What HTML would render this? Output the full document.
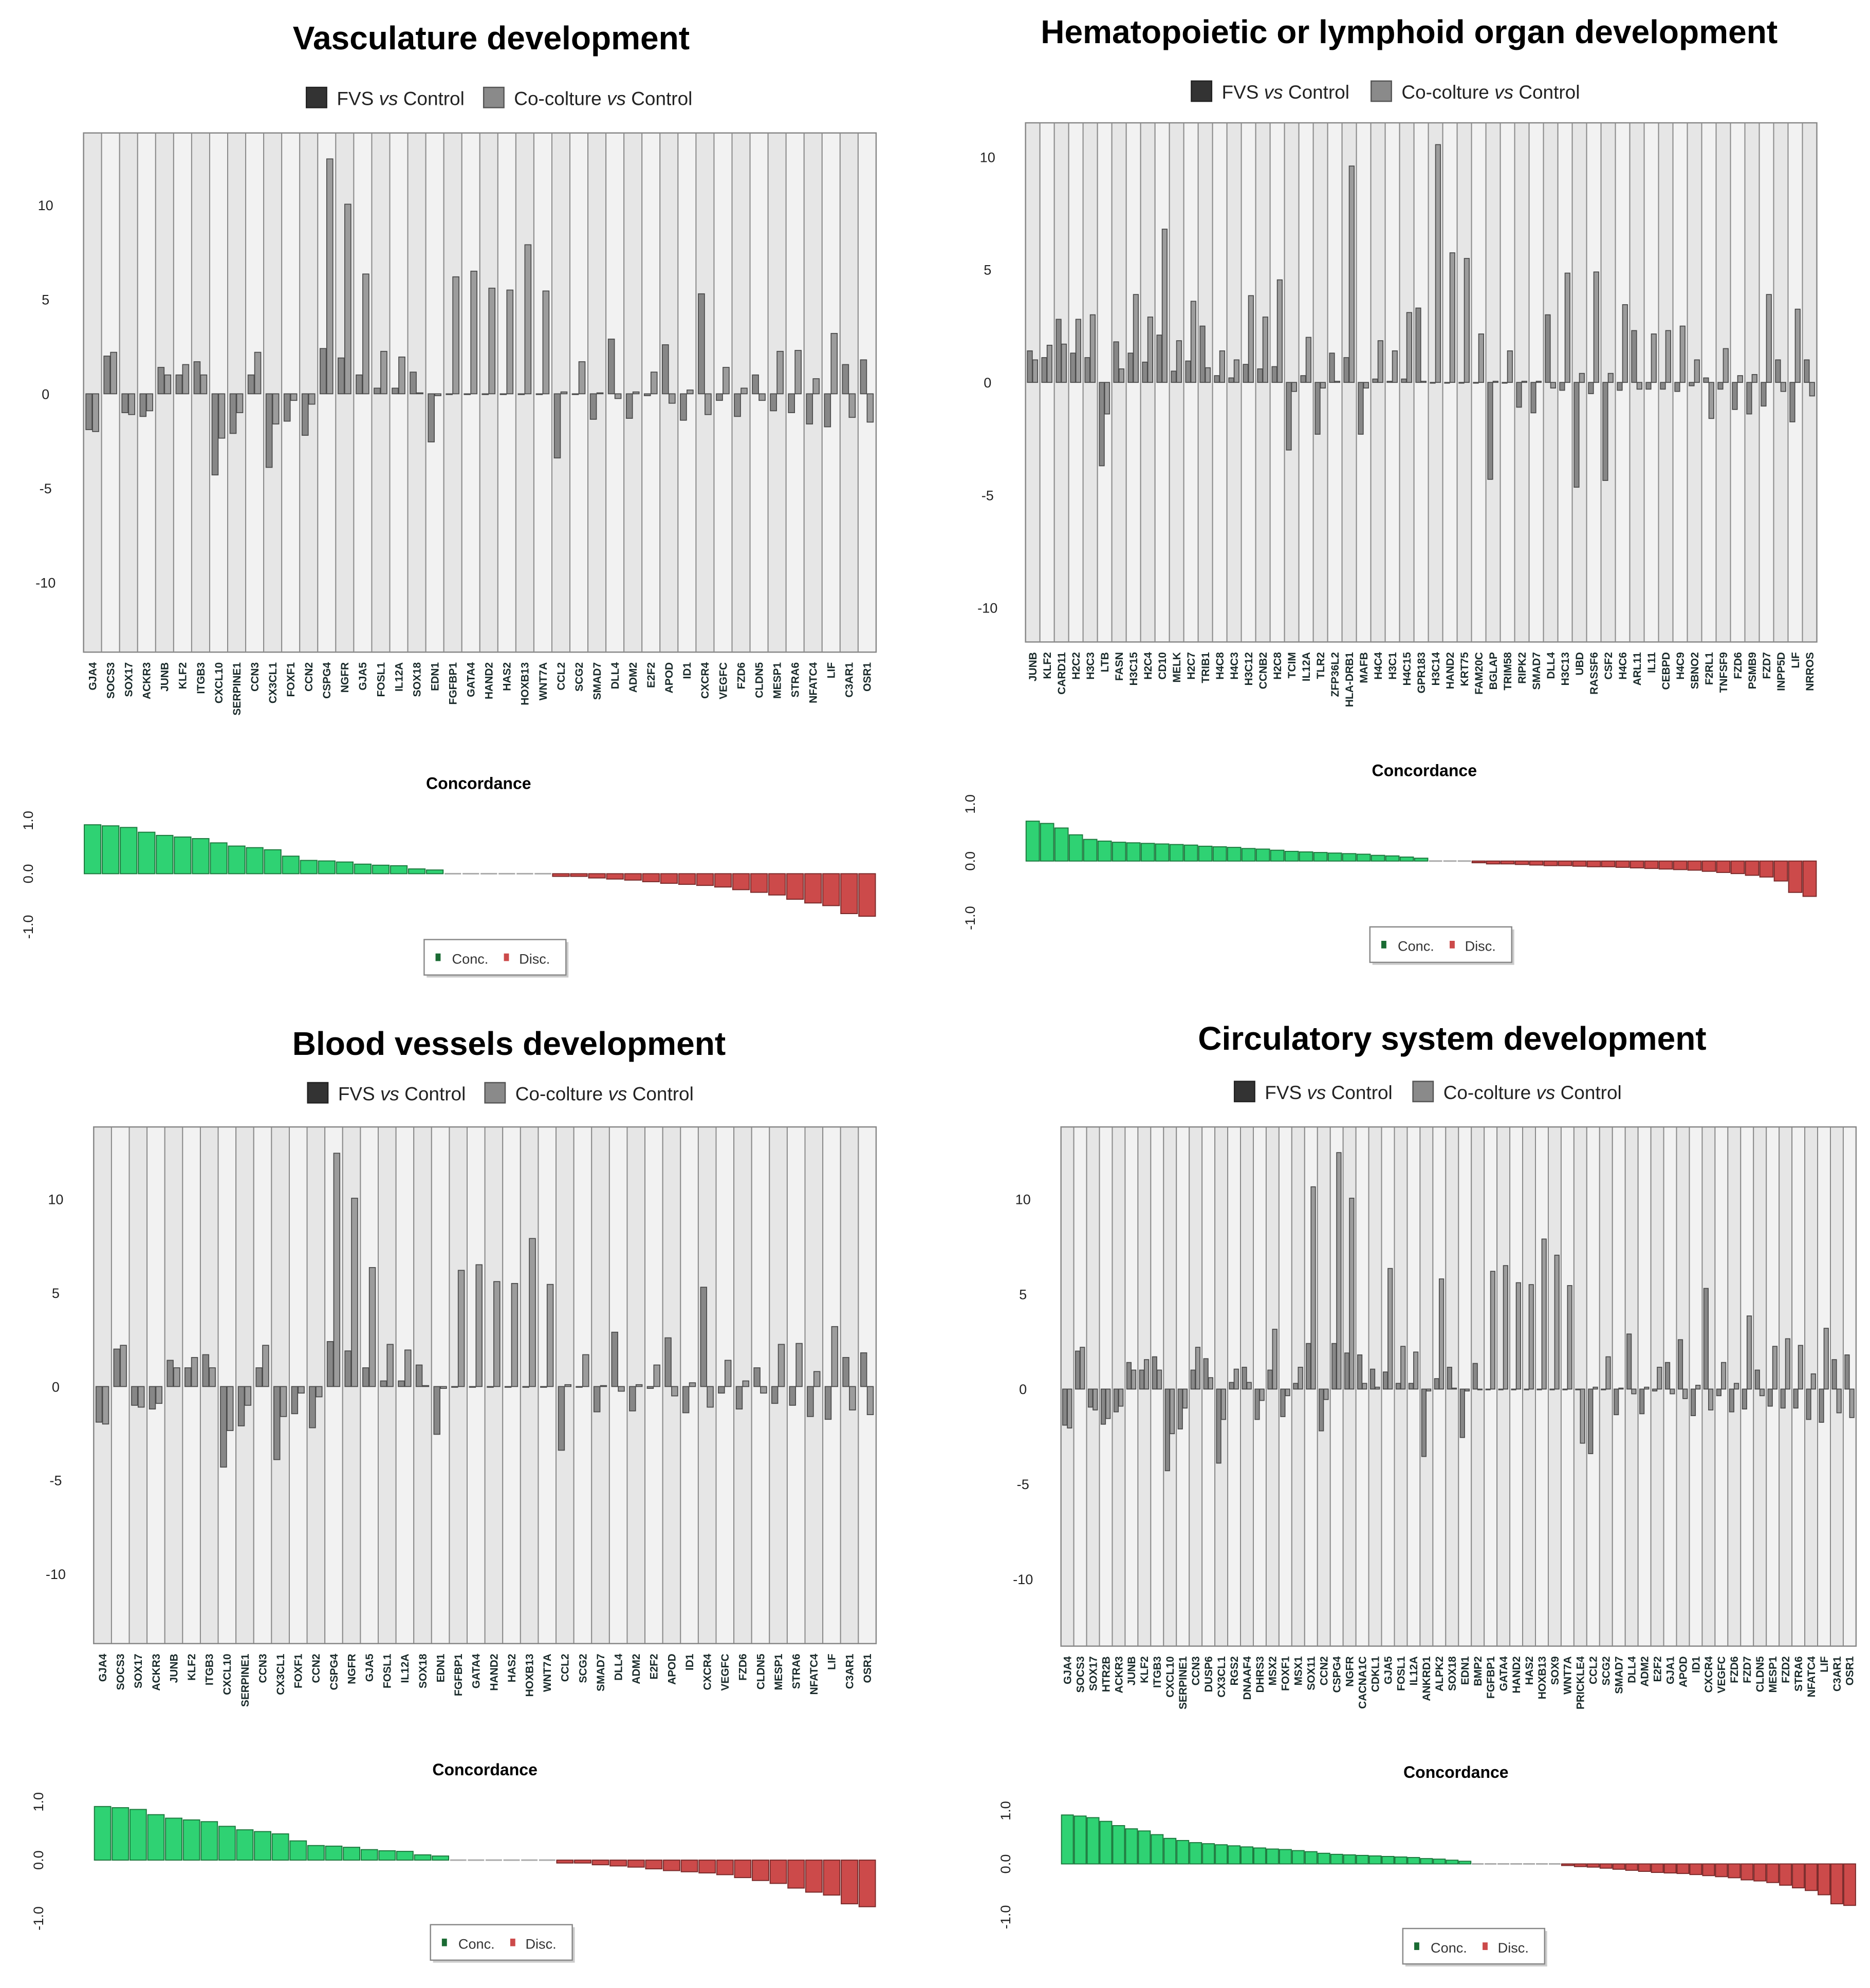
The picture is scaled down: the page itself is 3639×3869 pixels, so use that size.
<!DOCTYPE html>
<html>
<head>
<meta charset="utf-8">
<style>
html,body{margin:0;padding:0;background:#fff;}
svg{display:block;}
text{font-family:"Liberation Sans",Arial,sans-serif;}
</style>
</head>
<body>
<svg id="fig" xmlns="http://www.w3.org/2000/svg" width="3639" height="3869" viewBox="0 0 1477 1570" preserveAspectRatio="none">
<rect x="0" y="0" width="1477" height="1570" fill="#ffffff"/>
</svg>
<script>
// ---------- Data ----------
const vascGenes = ["GJA4","SOCS3","SOX17","ACKR3","JUNB","KLF2","ITGB3","CXCL10","SERPINE1","CCN3","CX3CL1","FOXF1","CCN2","CSPG4","NGFR","GJA5","FOSL1","IL12A","SOX18","EDN1","FGFBP1","GATA4","HAND2","HAS2","HOXB13","WNT7A","CCL2","SCG2","SMAD7","DLL4","ADM2","E2F2","APOD","ID1","CXCR4","VEGFC","FZD6","CLDN5","MESP1","STRA6","NFATC4","LIF","C3AR1","OSR1"];
const vascFvs = [-1.9,2.0,-1.0,-1.2,1.4,1.0,1.7,-4.3,-2.1,1.0,-3.9,-1.45,-2.2,2.4,1.9,1.0,0.3,0.3,1.15,-2.55,0,0,0,0,0,0,-3.4,0,-1.35,2.9,-1.3,-0.1,2.6,-1.4,5.3,-0.35,-1.2,1.0,-0.9,-1.0,-1.6,-1.75,1.55,1.8];
const vascCo = [-2.0,2.2,-1.1,-0.9,1.0,1.55,1.0,-2.35,-1.0,2.2,-1.6,-0.35,-0.55,12.45,10.05,6.35,2.25,1.95,0.05,-0.1,6.2,6.5,5.6,5.5,7.9,5.45,0.1,1.7,0.05,-0.25,0.1,1.15,-0.5,0.2,-1.1,1.4,0.3,-0.35,2.25,2.3,0.8,3.2,-1.25,-1.5];
const vascConc = [0.92,0.9,0.87,0.78,0.72,0.69,0.66,0.58,0.52,0.49,0.45,0.33,0.25,0.24,0.22,0.18,0.16,0.15,0.09,0.07,0,0,0,0,0,0,-0.05,-0.05,-0.08,-0.1,-0.12,-0.15,-0.18,-0.2,-0.22,-0.25,-0.3,-0.35,-0.4,-0.48,-0.55,-0.6,-0.75,-0.8];

const hemGenes = ["JUNB","KLF2","CARD11","H2C2","H3C3","LTB","FASN","H3C15","H2C4","CD10","MELK","H2C7","TRIB1","H4C8","H4C3","H3C12","CCNB2","H2C8","TCIM","IL12A","TLR2","ZFP36L2","HLA-DRB1","MAFB","H4C4","H3C1","H4C15","GPR183","H3C14","HAND2","KRT75","FAM20C","BGLAP","TRIM58","RIPK2","SMAD7","DLL4","H3C13","UBD","RASSF6","CSF2","H4C6","ARL11","IL11","CEBPD","H4C9","SBNO2","F2RL1","TNFSF9","FZD6","PSMB9","FZD7","INPP5D","LIF","NRROS"];
const hemFvs = [1.4,1.1,2.8,1.3,1.1,-3.7,1.8,1.3,0.9,2.1,0.5,0.95,2.5,0.3,0.2,0.8,0.6,0.7,-3.0,0.3,-2.3,1.3,1.1,-2.3,0.15,0.05,0.15,3.3,0,0,0,0,-4.3,0,-1.1,-1.35,3.0,-0.35,-4.65,-0.5,-4.35,-0.35,2.3,-0.3,-0.3,-0.4,-0.15,0.2,-0.3,-1.2,-1.4,-1.05,1.0,-1.75,1.0];
const hemCo = [1.0,1.65,1.7,2.8,3.0,-1.4,0.6,3.9,2.9,6.8,1.85,3.6,0.65,1.4,1.0,3.85,2.9,4.55,-0.4,2.0,-0.25,0.05,9.6,-0.25,1.85,1.4,3.1,0.05,10.55,5.75,5.5,2.15,0.05,1.4,0.05,0.05,-0.25,4.85,0.4,4.9,0.4,3.45,-0.3,2.15,2.3,2.5,1.0,-1.6,1.5,0.3,0.35,3.9,-0.4,3.25,-0.6];
const hemConc = [0.70,0.66,0.58,0.46,0.38,0.35,0.33,0.32,0.31,0.30,0.29,0.28,0.26,0.25,0.24,0.22,0.21,0.19,0.17,0.16,0.15,0.14,0.13,0.12,0.10,0.09,0.07,0.05,0,0,0,-0.03,-0.05,-0.05,-0.06,-0.07,-0.08,-0.08,-0.09,-0.1,-0.1,-0.11,-0.12,-0.13,-0.14,-0.15,-0.16,-0.18,-0.2,-0.22,-0.25,-0.28,-0.35,-0.55,-0.62];

const bvGenes = ["GJA4","SOCS3","SOX17","ACKR3","JUNB","KLF2","ITGB3","CXCL10","SERPINE1","CCN3","CX3CL1","FOXF1","CCN2","CSPG4","NGFR","GJA5","FOSL1","IL12A","SOX18","EDN1","FGFBP1","GATA4","HAND2","HAS2","HOXB13","WNT7A","CCL2","SCG2","SMAD7","DLL4","ADM2","E2F2","APOD","ID1","CXCR4","VEGFC","FZD6","CLDN5","MESP1","STRA6","NFATC4","LIF","C3AR1","OSR1"];
const bvFvs = [-1.9,2.0,-1.0,-1.2,1.4,1.0,1.7,-4.3,-2.1,1.0,-3.9,-1.45,-2.2,2.4,1.9,1.0,0.3,0.3,1.15,-2.55,0,0,0,0,0,0,-3.4,0,-1.35,2.9,-1.3,-0.1,2.6,-1.4,5.3,-0.35,-1.2,1.0,-0.9,-1.0,-1.6,-1.75,1.55,1.8];
const bvCo = [-2.0,2.2,-1.1,-0.9,1.0,1.55,1.0,-2.35,-1.0,2.2,-1.6,-0.35,-0.55,12.45,10.05,6.35,2.25,1.95,0.05,-0.1,6.2,6.5,5.6,5.5,7.9,5.45,0.1,1.7,0.05,-0.25,0.1,1.15,-0.5,0.2,-1.1,1.4,0.3,-0.35,2.25,2.3,0.8,3.2,-1.25,-1.5];
const bvConc = [0.92,0.9,0.87,0.78,0.72,0.69,0.66,0.58,0.52,0.49,0.45,0.33,0.25,0.24,0.22,0.18,0.16,0.15,0.09,0.07,0,0,0,0,0,0,-0.05,-0.05,-0.08,-0.1,-0.12,-0.15,-0.18,-0.2,-0.22,-0.25,-0.3,-0.35,-0.4,-0.48,-0.55,-0.6,-0.75,-0.8];

const circGenes = ["GJA4","SOCS3","SOX17","HTR2B","ACKR3","JUNB","KLF2","ITGB3","CXCL10","SERPINE1","CCN3","DUSP6","CX3CL1","RGS2","DNAAF4","DHRS3","MSX2","FOXF1","MSX1","SOX11","CCN2","CSPG4","NGFR","CACNA1C","CDKL1","GJA5","FOSL1","IL12A","ANKRD1","ALPK2","SOX18","EDN1","BMP2","FGFBP1","GATA4","HAND2","HAS2","HOXB13","SOX9","WNT7A","PRICKLE4","CCL2","SCG2","SMAD7","DLL4","ADM2","E2F2","GJA1","APOD","ID1","CXCR4","VEGFC","FZD6","FZD7","CLDN5","MESP1","FZD2","STRA6","NFATC4","LIF","C3AR1","OSR1"];
const circFvs = [-1.9,2.0,-0.95,-1.85,-1.2,1.4,1.0,1.7,-4.3,-2.1,1.0,1.6,-3.9,0.35,1.15,-1.6,1.0,-1.45,0.3,2.4,-2.2,2.4,1.9,1.8,1.05,0.9,0.3,0.3,-3.55,0.55,1.15,-2.55,1.35,0,0,0,0,0,0,0,0,-3.4,0,-1.35,2.9,-1.3,-0.1,1.4,2.6,-1.4,5.3,-0.35,-1.2,-1.05,1.0,-0.9,-1.0,-1.0,-1.6,-1.75,1.55,1.8];
const circCo = [-2.05,2.2,-1.1,-1.55,-0.9,1.0,1.55,1.0,-2.35,-1.0,2.2,0.6,-1.6,1.05,0.35,-0.6,3.15,-0.35,1.15,10.65,-0.55,12.45,10.05,0.3,0.1,6.35,2.25,1.95,-0.1,5.8,0.05,-0.1,0,6.2,6.5,5.6,5.5,7.9,7.05,5.45,-2.85,0.1,1.7,0.05,-0.25,0.1,1.15,-0.25,-0.5,0.2,-1.1,1.4,0.3,3.85,-0.35,2.25,2.65,2.3,0.8,3.2,-1.25,-1.5];
const circConc = [0.92,0.9,0.87,0.8,0.72,0.66,0.62,0.55,0.48,0.44,0.4,0.38,0.36,0.34,0.32,0.3,0.28,0.27,0.25,0.23,0.2,0.18,0.17,0.16,0.15,0.14,0.13,0.12,0.1,0.09,0.07,0.05,0,0,0,0,0,0,0,-0.03,-0.05,-0.06,-0.08,-0.1,-0.12,-0.14,-0.16,-0.17,-0.18,-0.2,-0.22,-0.24,-0.26,-0.3,-0.32,-0.35,-0.4,-0.45,-0.5,-0.58,-0.75,-0.78];

const yTicks = [10,5,0,-5,-10];
const concTicks = [1.0,0.0,-1.0];
const concTickLabels = ["1.0","0.0","-1.0"];

// ---------- Drawing ----------
const NS = "http://www.w3.org/2000/svg";
const svg = document.getElementById("fig");
function mk(tag, attrs, parent){
  const e = document.createElementNS(NS, tag);
  for (const k in attrs) e.setAttribute(k, attrs[k]);
  (parent||svg).appendChild(e);
  return e;
}

function drawPanel(L, slug, title, genes, fvs, co, conc){
  const g = mk("g", {});
  
  

  // title
  const t = mk("text", {x:L.titleX, y:L.titleY, "text-anchor":"middle", "font-size":26, "font-weight":"bold", fill:"#000"}, g);
  t.textContent = title;
  
  

  // legend
  const lg = mk("g", {}, g);
  
  
  const s1 = mk("rect", {x:L.leg1, y:L.legY-13, width:16, height:16, fill:"#333", stroke:"#222"}, lg);
  
  
  const t1 = mk("text", {x:L.leg1+24, y:L.legY+1, "font-size":15, fill:"#222"}, lg);
  t1.innerHTML = 'FVS <tspan font-style="italic">vs</tspan> Control';
  
  
  const s2 = mk("rect", {x:L.leg2, y:L.legY-13, width:16, height:16, fill:"#8a8a8a", stroke:"#555"}, lg);
  
  
  const t2 = mk("text", {x:L.leg2+24, y:L.legY+1, "font-size":15, fill:"#222"}, lg);
  t2.innerHTML = 'Co-colture <tspan font-style="italic">vs</tspan> Control';
  
  

  // main plot
  const n = genes.length;
  const cw = (L.x1 - L.x0) / n;
  const unit = (L.zeroY - L.y10) / 10;
  const yOf = v => L.zeroY - v * unit;
  const xOf = i => L.x0 + i * cw;

  const plot = mk("g", {}, g);
  
  
  for (let i = 0; i < n; i++){
    const col = mk("rect", {x:xOf(i), y:L.y0, width:cw, height:L.y1-L.y0, fill:(i%2===0?"#e6e6e6":"#f2f2f2"), stroke:"#8a8a8a", "stroke-width":0.8}, plot);
    
    
  }
  mk("rect", {x:L.x0, y:L.y0, width:L.x1-L.x0, height:L.y1-L.y0, fill:"none", stroke:"#888", "stroke-width":1}, plot);

  const bw = cw * 0.34;
  for (let i = 0; i < n; i++){
    const vals = [fvs[i], co[i]];
    for (let s = 0; s < 2; s++){
      const v = vals[s];
      const bx = xOf(i) + cw * (s === 0 ? 0.13 : 0.5);
      const y = Math.min(yOf(v), L.zeroY);
      const h = Math.max(Math.abs(yOf(v) - L.zeroY), 0.6);
      const r = mk("rect", {x:bx, y:y, width:bw, height:h, fill:(s===0?"#878787":"#9c9c9c"), stroke:"#4a4a4a", "stroke-width":0.7}, plot);
      
      
    }
  }

  // y axis labels
  yTicks.forEach(tv => {
    const lab = mk("text", {x:L.x0 - 30, y:yOf(tv) + 4, "text-anchor":"middle", "font-size":11, fill:"#222"}, g);
    lab.textContent = String(tv);
    
    
  });

  // gene labels
  const gfs = Math.min(8.5, cw * 0.85);
  genes.forEach((gn, i) => {
    const cx = xOf(i) + cw/2 + gfs*0.35;
    const lab = mk("text", {x:cx, y:L.y1 + 8, "text-anchor":"end", "font-size":gfs, "font-weight":"bold", fill:"#1a2a2a", transform:"rotate(-90 " + cx + " " + (L.y1+8) + ")"}, g);
    lab.textContent = gn;
    
    
  });

  // concordance
  const ct = mk("text", {x:L.cTitleX, y:L.cTitleY, "text-anchor":"middle", "font-size":13, "font-weight":"bold", fill:"#000"}, g);
  ct.textContent = "Concordance";
  
  

  const cu = (L.c0 - L.c1);
  const cyOf = v => L.c0 - v * cu;
  const cg = mk("g", {}, g);
  
  
  conc.forEach((v, i) => {
    const bx = xOf(i) + cw*0.04;
    const w = cw*0.92;
    let r;
    if (v === 0){
      r = mk("rect", {x:bx, y:L.c0-0.6, width:w, height:1.2, fill:"#aaaaaa"}, cg);
    } else {
      const y = Math.min(cyOf(v), L.c0);
      const h = Math.abs(cyOf(v) - L.c0);
      r = mk("rect", {x:bx, y:y, width:w, height:h, fill:(v>0?"#2fd273":"#cc4a4a"), stroke:(v>0?"#1c7a3e":"#7a2a2a"), "stroke-width":0.8}, cg);
    }
    
    
  });
  concTicks.forEach((tv, k) => {
    const yy = cyOf(tv);
    const lx = L.x0 - 40;
    const lab = mk("text", {x:lx, y:yy, "text-anchor":"middle", "font-size":11, fill:"#222", transform:"rotate(-90 " + lx + " " + yy + ")"}, g);
    lab.textContent = concTickLabels[k];
    
    
  });

  // concordance legend
  const bl = mk("g", {}, g);
  
  
  mk("rect", {x:L.bx+2, y:L.by+2, width:112, height:28, fill:"#cccccc"}, bl);
  mk("rect", {x:L.bx, y:L.by, width:112, height:28, fill:"#fff", stroke:"#888", "stroke-width":1}, bl);
  mk("rect", {x:L.bx+9, y:L.by+11, width:4, height:6, fill:"#1a6b33"}, bl);
  const ct1 = mk("text", {x:L.bx+22, y:L.by+19, "font-size":11, fill:"#333"}, bl);
  ct1.textContent = "Conc.";
  
  
  mk("rect", {x:L.bx+63, y:L.by+11, width:4, height:6, fill:"#cc4a4a"}, bl);
  const ct2 = mk("text", {x:L.bx+75, y:L.by+19, "font-size":11, fill:"#333"}, bl);
  ct2.textContent = "Disc.";
  
  
}

drawPanel({titleX:388,titleY:39,legY:82,leg1:242,leg2:382,x0:66,x1:692,y0:105,y1:515,zeroY:311,y10:162,cTitleX:378,cTitleY:623,c0:690,c1:648,bx:335,by:742},
  "vasculature","Vasculature development",vascGenes,vascFvs,vascCo,vascConc);
drawPanel({titleX:1113,titleY:34,legY:77,leg1:941,leg2:1083,x0:810,x1:1435,y0:97,y1:507,zeroY:302,y10:124,cTitleX:1125,cTitleY:613,c0:680,c1:635,bx:1082,by:732},
  "hematopoietic","Hematopoietic or lymphoid organ development",hemGenes,hemFvs,hemCo,hemConc);
drawPanel({titleX:402,titleY:833,legY:868,leg1:243,leg2:383,x0:74,x1:692,y0:890,y1:1298,zeroY:1095,y10:947,cTitleX:383,cTitleY:1402,c0:1469,c1:1423,bx:340,by:1520},
  "blood-vessels","Blood vessels development",bvGenes,bvFvs,bvCo,bvConc);
drawPanel({titleX:1147,titleY:829,legY:867,leg1:975,leg2:1116,x0:838,x1:1466,y0:890,y1:1300,zeroY:1097,y10:947,cTitleX:1150,cTitleY:1404,c0:1472,c1:1430,bx:1108,by:1523},
  "circulatory","Circulatory system development",circGenes,circFvs,circCo,circConc);
</script>
</body>
</html>
